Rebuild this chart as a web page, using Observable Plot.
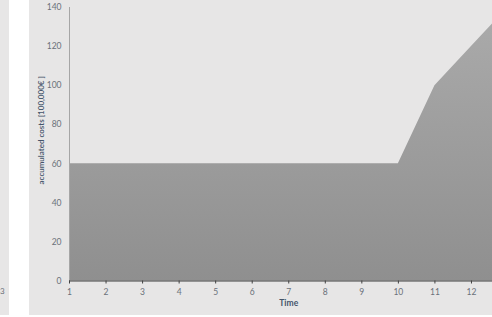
<!DOCTYPE html>
<html>
<head>
<meta charset="utf-8">
<script src="https://cdn.jsdelivr.net/npm/d3@7"></script>
<script src="https://cdn.jsdelivr.net/npm/@observablehq/plot@0.6"></script>
<style>
  html, body { margin: 0; padding: 0; background: #fff; overflow: hidden; }
  #wrap { position: relative; width: 492px; height: 317px; }
  #strip { position: absolute; left: 0; top: 0; width: 9px; height: 315px; background: #e7e6e6; }
  #panel { position: absolute; left: 29px; top: 0; width: 463px; height: 315px; background: #e7e6e6; }
  #stray { position: absolute; left: 0px; top: 286px; font: 8px Lato, sans-serif; color: #6b717a; }
  #chart { position: absolute; left: 0; top: 0; }
  #chart svg { background: transparent; }
</style>
</head>
<body>
<div id="wrap">
  <div id="strip"></div>
  <div id="panel"></div>
  <div id="stray">3</div>
  <div id="chart"></div>
</div>
<script>
const times = [1, 2, 3, 4, 5, 6, 7, 8, 9, 10, 11, 12, 13];
const costs = [60, 60, 60, 60, 60, 60, 60, 60, 60, 60, 100, 120, 140];
const xTicks = [1, 2, 3, 4, 5, 6, 7, 8, 9, 10, 11, 12];
const yTicks = [0, 20, 40, 60, 80, 100, 120, 140];
const xLabel = "Time";
const yLabel = "accumulated costs [100,000€ ]";

const data = times.map((t, i) => ({time: t, cost: costs[i]}));

const gradient = () => {
  const defs = d3.create("svg:defs");
  const g = defs.append("linearGradient")
    .attr("id", "areaGrad").attr("x1", 0).attr("y1", 0).attr("x2", 0).attr("y2", 1);
  g.append("stop").attr("offset", "0%").attr("stop-color", "#ababab");
  g.append("stop").attr("offset", "100%").attr("stop-color", "#8f8f8f");
  return defs.node();
};

const chart = Plot.plot({
  width: 492,
  height: 317,
  marginLeft: 69,
  marginRight: -15.5,
  marginTop: 7,
  marginBottom: 36.5,
  style: {background: "transparent", fontFamily: "Lato, sans-serif", fontSize: "8.5px", color: "#6b717a"},
  x: {domain: [1, 13]},
  y: {domain: [0, 140]},
  marks: [
    gradient,
    Plot.areaY(data, {x: "time", y: "cost", fill: "url(#areaGrad)", curve: "linear"}),
    Plot.ruleX([1], {y1: 0, y2: 140, stroke: "#a6a6a6", strokeWidth: 1}),
    Plot.ruleY([0], {stroke: "#404040", strokeWidth: 1.2}),
    Plot.axisY(yTicks, {tickSize: 0, tickPadding: 8, label: null, fill: "#6b717a", fontSize: 8.5}),
    Plot.axisX(xTicks, {tickSize: 3, tickPadding: 4.5, label: null, stroke: "#404040", fill: "#6b717a", fontSize: 8.5}),
    Plot.text([yLabel], {frameAnchor: "left", textAnchor: "middle", rotate: -90, dx: -28, dy: -14, fill: "#44546a", fontSize: 8, fontWeight: 600}),
    Plot.text([xLabel], {frameAnchor: "bottom", dy: 25, fill: "#44546a", fontSize: 8.5, fontWeight: 700})
  ]
});
document.getElementById("chart").appendChild(chart);
</script>
</body>
</html>
